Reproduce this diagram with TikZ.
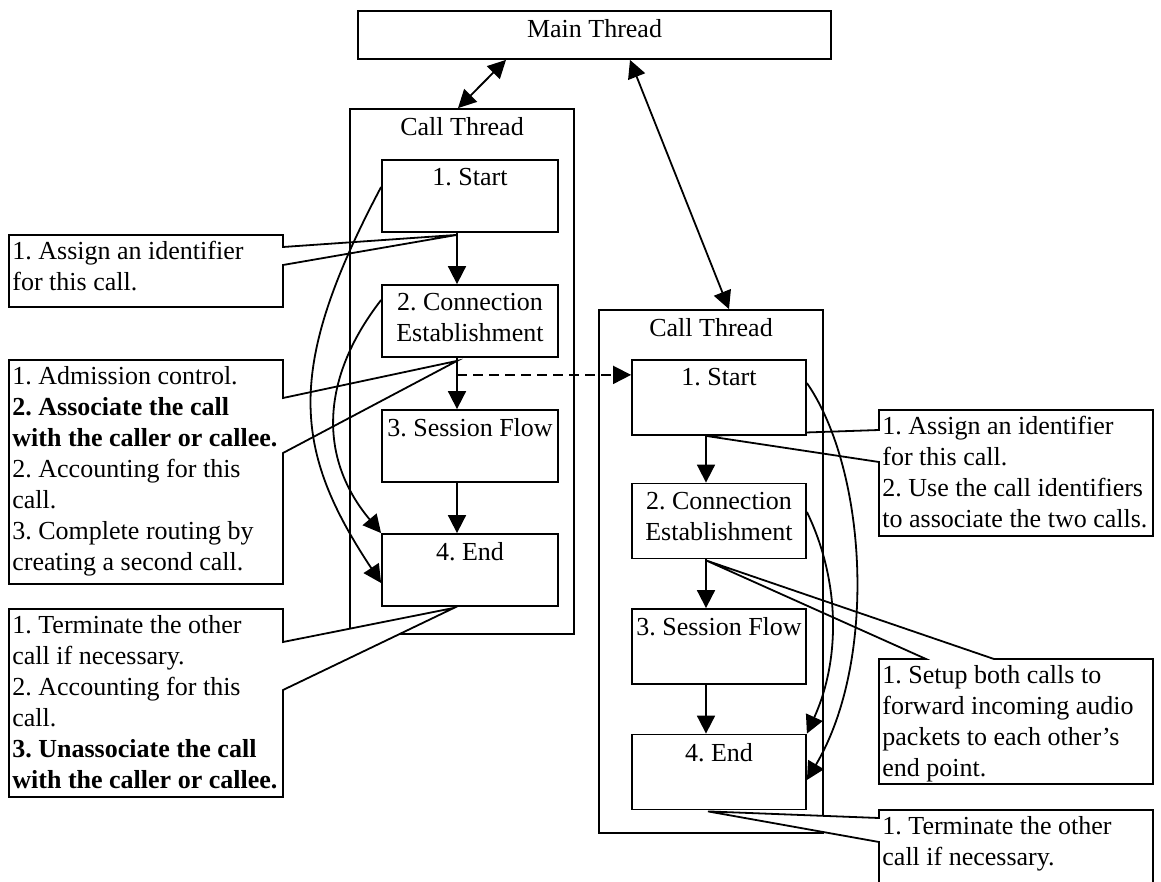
\documentclass[tikz,border=0pt]{standalone}
\usepackage{fontspec}
\setmainfont{Liberation Serif}
\usetikzlibrary{arrows.meta}
\pgfdeclarelayer{back}
\pgfdeclarelayer{mid}
\pgfsetlayers{back,mid,main}
\frenchspacing

\begin{document}
\begin{tikzpicture}[x=0.5pt,y=-0.5pt,
  every node/.style={font=\fontsize{13}{15.5}\selectfont\frenchspacing},
  thread/.style={draw, line width=0.9pt, inner sep=0pt},
  stepbox/.style={draw, fill=white, line width=0.9pt, inner sep=0pt,
                  minimum width=88pt, minimum height=36pt},
  rstepbox/.style={stepbox, minimum width=87pt, minimum height=37.5pt},
  title/.style={anchor=north, inner sep=0pt, align=center},
  cshape/.style={draw, fill=white, line width=0.9pt, line join=miter},
  ctext/.style={anchor=north west, inner sep=0pt, align=left},
  flow/.style={draw, line width=0.9pt, -{Triangle[length=9pt,width=9pt]}},
  twoway/.style={draw, line width=0.9pt,
                 {Triangle[length=9pt,width=9pt]}-{Triangle[length=9pt,width=9pt]}},
  hop/.style={flow, dash pattern=on 5pt off 3pt},
]
\useasboundingbox (0,0) rectangle (1161,882);
\clip (0,0) rectangle (1161,882);

% main thread
\node[thread, minimum width=236.5pt, minimum height=24pt] (main) at (594.5,35) {};
\node[title] (mainlbl) at (594.5,19) {Main Thread};

% first call thread: the four stages
\node[stepbox] (ls1) at (470,196) {};
\node[stepbox] (ls2) at (470,321) {};
\node[stepbox] (ls3) at (470,446) {};
\node[stepbox] (ls4) at (470,570) {};
\node[title] (ls1t) at (470,168) {1. Start};
\node[title] (ls2t) at (470,293) {2. Connection\\Establishment};
\node[title] (ls3t) at (470,418) {3. Session Flow};
\node[title] (ls4t) at (470,542) {4. End};

% second call thread: the four stages
\node[rstepbox] (rs1) at (719,397.5) {};
\node[rstepbox] (rs2) at (719,521) {};
\node[rstepbox] (rs3) at (719,646.5) {};
\node[rstepbox] (rs4) at (719,772) {};
\node[title] (rs1t) at (719,368) {1. Start};
\node[title] (rs2t) at (719,492) {2. Connection\\Establishment};
\node[title] (rs3t) at (719,617) {3. Session Flow};
\node[title] (rs4t) at (719,743) {4. End};

% points the callouts lead to
\coordinate (a1) at ([xshift=-6.5pt,yshift=-1pt]ls1.south);
\coordinate (a2) at ([xshift=-6.5pt,yshift=-1.5pt]ls2.south);
\coordinate (a3) at ([xshift=-8pt,yshift=-0.5pt]ls4.south);
\coordinate (b1) at ([xshift=-6.5pt]rs1.south);
\coordinate (b2) at ([xshift=-6.5pt,yshift=-0.5pt]rs2.south);
\coordinate (b3) at ([xshift=-5.5pt,yshift=-0.5pt]rs4.south);

% callouts lying under the thread frames
\begin{pgfonlayer}{back}
\draw[cshape] (9,235) -- (283,235) -- (283,247) -- (a1) -- (283,265)
  -- (283,307) -- (9,307) -- cycle;
\node[ctext] (c1) at (12,241) {1. Assign an identifier\\for this call.};

\draw[cshape] (9,360) -- (283,360) -- (283,398) -- (a2) -- (283,453)
  -- (283,584) -- (9,584) -- cycle;
\node[ctext] (c2) at (12,366) {1. Admission control.\\
  \textbf{2. Associate the call}\\
  \textbf{with the caller or callee.}\\
  2. Accounting for this\\
  call.\\
  3. Complete routing by\\
  creating a second call.};

\draw[cshape] (879,410) -- (1153,410) -- (1153,536) -- (879,536)
  -- (879,462) -- (b1) -- (879,430) -- cycle;
\node[ctext] (r1) at (882,416) {1. Assign an identifier\\for this call.\\
  2. Use the call identifiers\\to associate the two calls.};

\draw[cshape] (879,659) -- (926,659) -- (b2) -- (994,659) -- (1153,659)
  -- (1153,784) -- (879,784) -- cycle;
\node[ctext] (r2) at (882,665) {1. Setup both calls to\\forward incoming audio\\
  packets to each other’s\\end point.};
\end{pgfonlayer}

% thread frames, then the callouts lying over them
\begin{pgfonlayer}{mid}
\node[thread, minimum width=112pt, minimum height=262.5pt] (lct) at (462,371.5) {};
\node[title] (lctt) at (462,117) {Call Thread};
\node[thread, minimum width=112pt, minimum height=261.5pt] (rct) at (711,571.5) {};
\node[title] (rctt) at (711,318) {Call Thread};

\draw[cshape] (9,609) -- (283,609) -- (283,642) -- (a3) -- (283,690)
  -- (283,797) -- (9,797) -- cycle;
\node[ctext] (c3) at (12,615) {1. Terminate the other\\
  call if necessary.\\
  2. Accounting for this\\
  call.\\
  \textbf{3. Unassociate the call}\\
  \textbf{with the caller or callee.}};

\draw[cshape] (879,810) -- (1153,810) -- (1153,900) -- (879,900)
  -- (879,842) -- (b3) -- (879,818) -- cycle;
\node[ctext] (r3) at (882,816) {1. Terminate the other\\call if necessary.};
\end{pgfonlayer}

% main thread <-> call threads
\draw[twoway] ([xshift=-44.25pt]main.south) -- ([xshift=-2pt]lct.north);
\draw[twoway] ([xshift=17.75pt]main.south) -- ([xshift=9pt]rct.north);

% stage sequence, first call
\draw[flow] ([xshift=-6.5pt]ls1.south) -- ([xshift=-6.5pt]ls2.north);
\draw[flow] ([xshift=-6.5pt]ls2.south) -- ([xshift=-6.5pt]ls3.north);
\draw[flow] ([xshift=-6.5pt]ls3.south) -- ([xshift=-6.5pt]ls4.north);

% stage sequence, second call
\draw[flow] ([xshift=-6.5pt]rs1.south) -- ([xshift=-6.5pt]rs2.north);
\draw[flow] ([xshift=-6.5pt]rs2.south) -- ([xshift=-6.5pt]rs3.north);
\draw[flow] ([xshift=-6.5pt]rs3.south) -- ([xshift=-6.5pt]rs4.north);

% routing creates the second call
\coordinate (d0) at ([xshift=-6.5pt,yshift=-8.5pt]ls2.south);
\draw[hop] (d0) -- (d0 -| rs1.west);

% early exits to the End stage
\draw[flow] ([yshift=4.5pt]ls1.west) .. controls +(-97,183) and +(-88,-133)
  .. ([yshift=-6.5pt]ls4.west);
\draw[flow] ([yshift=10.5pt]ls2.west) .. controls +(-62,80) and +(-62,-74)
  .. (ls4.north west);
\draw[flow] ([yshift=7.25pt]rs1.east) .. controls +(60,87) and +(71,-120)
  .. ([yshift=-4pt]rs4.east);
\draw[flow] ([yshift=4.5pt]rs2.east) .. controls +(33,68) and +(34,-75)
  .. (rs4.north east);
\end{tikzpicture}
\end{document}
